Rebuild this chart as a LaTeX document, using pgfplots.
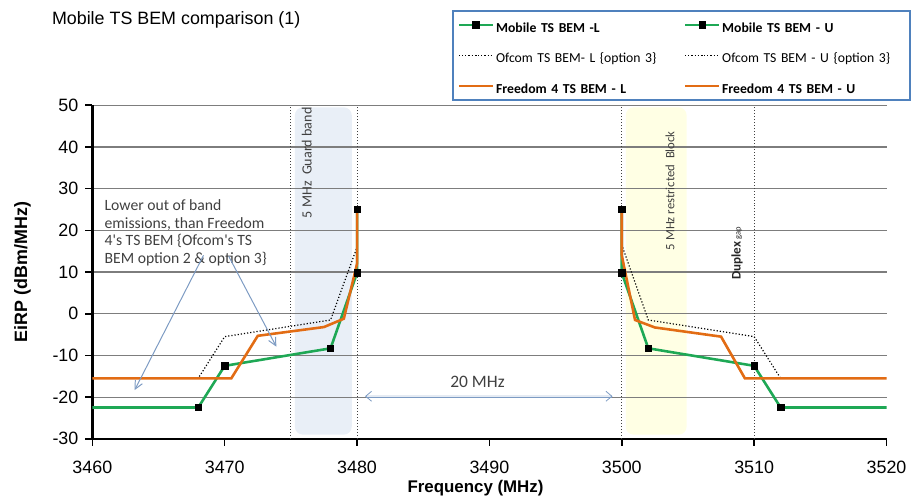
\documentclass[border=0pt]{standalone}
\usepackage{fontspec}
\setmainfont{Liberation Sans}
\newfontfamily\carlito{Carlito}
\usepackage{pgfplots}
\pgfplotsset{compat=1.18}
\usetikzlibrary{arrows.meta}
\definecolor{mgreen}{RGB}{30,168,85}
\definecolor{forange}{RGB}{226,108,20}
\definecolor{legblue}{RGB}{79,129,189}
\definecolor{arrblue}{RGB}{125,155,195}
\definecolor{gbfill}{RGB}{233,239,247}
\definecolor{ybfill}{RGB}{255,255,228}
\definecolor{gridgray}{RGB}{125,125,125}
\definecolor{annot}{RGB}{64,64,64}
\pgfplotsset{
  midmark legend/.style={legend image code/.code={
    \draw[mark repeat=2,mark phase=2,##1,mark indices={2}] plot coordinates {(0cm,0cm) (0.3cm,0cm) (0.6cm,0cm)};}},
}
\begin{document}
\begin{tikzpicture}
\begin{axis}[
  at={(46.5pt,30pt)}, anchor=south west,
  scale only axis, width=400pt, height=168pt,
  xmin=3460, xmax=3520, ymin=-30, ymax=50,
  axis lines*=left,
  axis line style={line width=1.2pt, black},
  xtick={3460,3470,...,3520}, ytick={-30,-20,...,50},
  tick align=outside, major tick length=3.5pt,
  tick style={line width=0.8pt, black},
  ymajorgrids, major grid style={gridgray, line width=0.6pt},
  ticklabel style={font=\fontsize{9}{10}\selectfont},
  xticklabel style={yshift=-4pt},
  /pgf/number format/1000 sep={},
  /pgf/number format/assume math mode=true,
  xlabel={Frequency (MHz)}, ylabel={EiRP (dBm/MHz)},
  every axis x label/.style={at={(axis description cs:0.4825,-0.149)},anchor=center,font=\bfseries\fontsize{8.5}{10}\selectfont},
  every axis y label/.style={at={(axis description cs:-0.088,0.5)},rotate=90,anchor=center,font=\bfseries\fontsize{9}{10}\selectfont},
  set layers,
  clip=false,
  legend columns=2,
  legend cell align=left,
  legend style={at={(0.4525,1.2857)}, anchor=north west, draw=legblue, line width=1pt,
    font=\carlito\fontsize{6.9}{8}\selectfont, inner xsep=2.5pt, inner ysep=3.1pt, row sep=7.6pt,
    nodes={text width=87pt, inner xsep=1pt, inner ysep=0pt, text height=7.6pt, text depth=0.2pt, align=left},
    /tikz/column 2/.style={column sep=6.5pt},
    /tikz/column 4/.style={nodes={text width=91pt}}},
]
\begin{pgfonlayer}{axis background}
\fill[gbfill, rounded corners=4pt] (axis cs:3475.3,-29) rectangle (axis cs:3479.6,49.5);
\fill[ybfill, rounded corners=4pt] (axis cs:3500.3,-29) rectangle (axis cs:3504.9,49.5);
\end{pgfonlayer}
\draw[densely dotted, black!75, line width=0.5pt] (axis cs:3475,-30) -- (axis cs:3475,50);
\draw[densely dotted, black!75, line width=0.5pt] (axis cs:3480,-30) -- (axis cs:3480,50);
\draw[densely dotted, black!75, line width=0.5pt] (axis cs:3500,-30) -- (axis cs:3500,50);
\draw[densely dotted, black!75, line width=0.5pt] (axis cs:3510,-30) -- (axis cs:3510,50);

% Mobile L
\addplot[mgreen, line width=1.3pt, mark=square*, mark size=1.6pt, mark indices={2,3,4,5,6},
  mark options={solid, fill=black, draw=black, line width=0.3pt}, midmark legend] coordinates {
  (3460,-22.5) (3468,-22.5) (3470,-12.5) (3478,-8.3) (3480,9.8) (3480,25)};
\addlegendentry{\bfseries Mobile TS BEM -L}
% Mobile U (listed from right to left)
\addplot[mgreen, line width=1.3pt, mark=square*, mark size=1.6pt, mark indices={2,3,4,5,6},
  mark options={solid, fill=black, draw=black, line width=0.3pt}, midmark legend] coordinates {
  (3520,-22.5) (3512,-22.5) (3510,-12.5) (3502,-8.3) (3500,9.8) (3500,25)};
\addlegendentry{\bfseries Mobile TS BEM - U}
% Ofcom L
\addplot[black, densely dotted, line width=0.6pt] coordinates {
  (3460,-15.5) (3468,-15.5) (3470,-5.5) (3478,-1.5) (3480,16) (3480,25)};
\addlegendentry{Ofcom TS BEM- L \{option 3\}}
% Ofcom U
\addplot[black, densely dotted, line width=0.6pt] coordinates {
  (3500,25) (3500,16.5) (3502,-1.5) (3510,-5.5) (3512,-15.5) (3520,-15.5)};
\addlegendentry{Ofcom TS BEM - U \{option 3\}}
% Freedom 4 L
\addplot[forange, line width=1.3pt] coordinates {
  (3460,-15.5) (3470.5,-15.5) (3472.5,-5.3) (3477.5,-3.2) (3479,-1.2) (3480,12) (3480,25)};
\addlegendentry{\bfseries Freedom 4 TS BEM - L}
% Freedom 4 U
\addplot[forange, line width=1.3pt] coordinates {
  (3500,25) (3500,14) (3501,-1.5) (3502.5,-3.3) (3507.5,-5.5) (3509.3,-15.5) (3520,-15.5)};
\addlegendentry{\bfseries Freedom 4 TS BEM - U}

\node[rotate=90, font=\carlito\fontsize{7.1}{8}\selectfont, text=annot] at (axis cs:3476.2,36.2) {5 MHz\ \ Guard band};
\node[rotate=90, font=\carlito\fontsize{6.4}{7}\selectfont, text=annot] at (axis cs:3503.65,29.5) {5 MHz restricted\ \ Block};
\node[rotate=90, font=\carlito\bfseries\fontsize{6.6}{7}\selectfont, text=black!85] at (axis cs:3508.7,14.5) {Duplex {\mdseries\fontsize{4.3}{5}\selectfont gap}};
\node[anchor=north west, inner sep=0pt, align=left, font=\carlito\fontsize{7.9}{8.85}\selectfont, text=annot] at (axis cs:3460.9,27.4)
  {Lower out of band\\emissions, than Freedom\\4's TS BEM \{Ofcom's TS\\BEM option 2 \& option 3\}};
\draw[arrblue, line width=0.5pt, -{Straight Barb[length=4pt,width=4pt]}] (axis cs:3468.4,14.0) -- (axis cs:3463.2,-18.3);
\draw[arrblue, line width=0.5pt, -{Straight Barb[length=4pt,width=4pt]}] (axis cs:3470.3,13.8) -- (axis cs:3473.9,-7.9);
\draw[draw=arrblue, double=arrblue!20, double distance=0.8pt, line width=0.4pt, {Straight Barb[length=3pt,width=5pt]}-{Straight Barb[length=3pt,width=5pt]}] (axis cs:3480.6,-19.8) -- (axis cs:3499.3,-19.8);
\node[font=\carlito\fontsize{8.8}{10}\selectfont, text=annot] at (axis cs:3489.1,-16.4) {20 MHz};
\end{axis}
\node[anchor=west, inner sep=0pt, font=\fontsize{9}{10}\selectfont] at (26pt,241pt) {Mobile TS BEM comparison (1)};
\path (0,0) rectangle (456.5pt,251pt);
\end{tikzpicture}
\end{document}
